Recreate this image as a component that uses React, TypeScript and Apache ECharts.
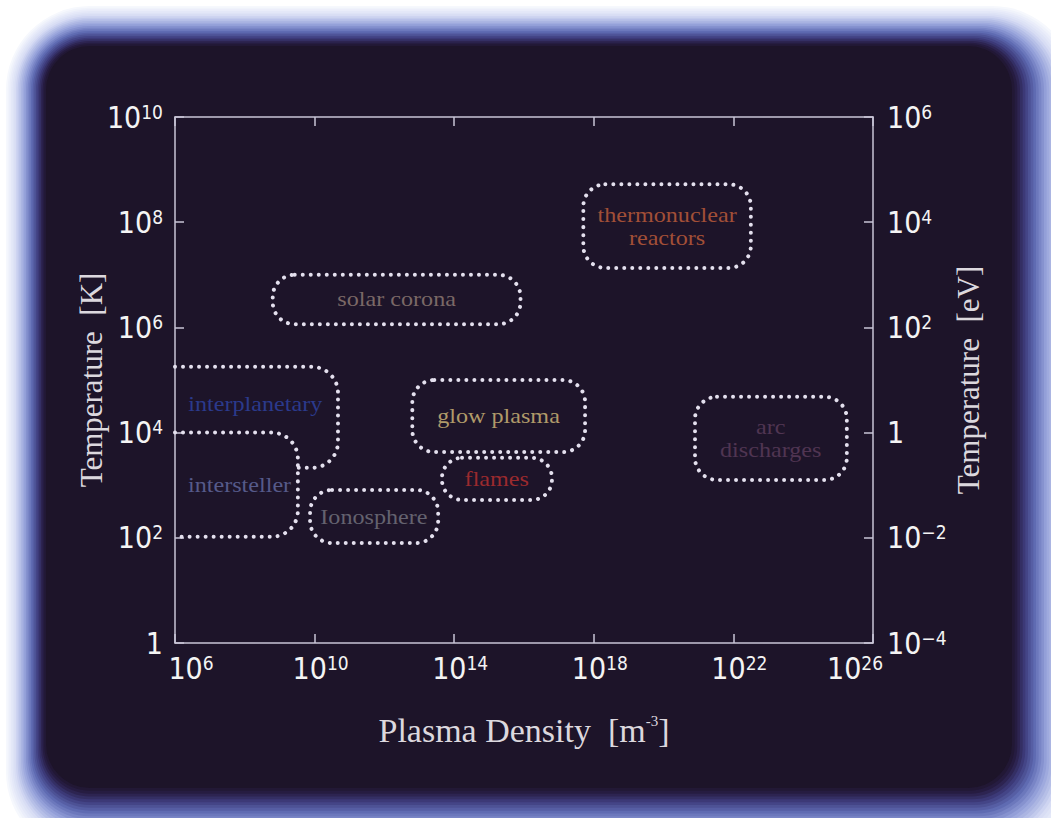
import React, { useEffect, useRef } from 'react';
import * as echarts from 'echarts';

// log10 of plasma density [m^-3] tick positions
const densityTicks = [6, 10, 14, 18, 22, 26];
// log10 temperature [K] (left) and [eV] (right) axis ranges
const tempKRange = [0, 10];
const tempEvRange = [-4, 6];

// plasma regions (log10 units)
const regionNames = [
  'thermonuclear\nreactors',
  'solar corona',
  'glow plasma',
  'flames',
  'arc\ndischarges',
  'Ionosphere',
  'interplanetary',
  'intersteller',
];
const densityLow = [17.7, 8.8, 12.8, 13.65, 20.9, 9.87, 6, 6];
const densityHigh = [22.5, 15.9, 17.75, 16.8, 25.25, 13.54, 10.67, 9.52];
const tempLow = [7.13, 6.06, 3.63, 2.72, 3.1, 1.9, 3.33, 2.02];
const tempHigh = [8.72, 7.0, 5.0, 3.52, 4.68, 2.91, 5.25, 4.0];
// where the lower edge of an open (axis-attached) region stops
const lowerEdgeEnd = [null, null, null, null, null, null, 9.52, null];
// label anchor (log10 density, log10 temperature)
const labelDensity = [20.1, 12.35, 15.27, 15.22, 23.07, 11.7, 8.3, 7.85];
const labelTemp = [7.92, 6.53, 4.32, 3.12, 3.89, 2.4, 4.55, 3.0];

const labelColors = ['#a24f37', '#7a6866', '#b09a6a', '#9b2a2e', '#503552', '#64626f', '#2b3a8c', '#565a8a'];

const TICK_FONT = '"Liberation Sans Narrow", "DejaVu Sans Condensed", "Liberation Sans", Arial, sans-serif';
const SERIF = '"Liberation Serif", "Times New Roman", serif';
const AXIS_COLOR = '#c9c5d6';
const PANEL = '#1d1429';

const tickRich = {
  b: { fontSize: 30, fontFamily: TICK_FONT, color: '#f4f4f4' },
  bm: { fontSize: 30, fontFamily: TICK_FONT, color: '#f4f4f4', padding: [0, 0, 0, 12] },
  bf: { fontSize: 30, fontFamily: TICK_FONT, color: '#f4f4f4', padding: [0, 0, 0, 32] },
  s: { fontSize: 19, fontFamily: TICK_FONT, color: '#f4f4f4', verticalAlign: 'top' },
  sl: { fontSize: 19, fontFamily: TICK_FONT, color: '#f4f4f4', verticalAlign: 'top', padding: [0, 36, 0, 0] },
};

function expLabel(v: number, tok = 'b', supTok = 's') {
  if (v === 0) return '{b|1}';
  const e = v < 0 ? '\u2212' + String(-v) : String(v);
  return `{${tok}|10}{${supTok}|${e}}`;
}

function xLabel(v: number) {
  const first = densityTicks[0];
  const last = densityTicks[densityTicks.length - 1];
  if (v === first) return expLabel(v, 'bf', 's');
  if (v === last) return expLabel(v, 'b', 'sl');
  return expLabel(v, 'bm', 's');
}

function roundedPath(l: number, t: number, r: number, b: number, rad: number) {
  return [
    `M${l + rad},${t}`,
    `L${r - rad},${t}`,
    `A${rad},${rad} 0 0 1 ${r},${t + rad}`,
    `L${r},${b - rad}`,
    `A${rad},${rad} 0 0 1 ${r - rad},${b}`,
    `L${l + rad},${b}`,
    `A${rad},${rad} 0 0 1 ${l},${b - rad}`,
    `L${l},${t + rad}`,
    `A${rad},${rad} 0 0 1 ${l + rad},${t}`,
    'Z',
  ].join(' ');
}

function openPath(l: number, t: number, r: number, b: number, endX: number, rad: number) {
  return [
    `M${l},${t}`,
    `L${r - rad},${t}`,
    `A${rad},${rad} 0 0 1 ${r},${t + rad}`,
    `L${r},${b - rad}`,
    `A${rad},${rad} 0 0 1 ${r - rad},${b}`,
    `L${endX},${b}`,
  ].join(' ');
}

// glow frame: gradient stops from the outer white to the dark panel
const glowStops: [number, number[]][] = [
  [0, [246, 248, 253]],
  [0.22, [214, 220, 244]],
  [0.45, [150, 162, 218]],
  [0.62, [96, 108, 180]],
  [0.78, [62, 60, 124]],
  [0.9, [40, 30, 70]],
  [1, [29, 20, 41]],
];

function glowColor(t: number) {
  for (let k = 1; k < glowStops.length; k++) {
    const [t1, c1] = glowStops[k];
    const [t0, c0] = glowStops[k - 1];
    if (t <= t1) {
      const f = (t - t0) / (t1 - t0);
      const c = c0.map((v, j) => Math.round(v + (c1[j] - v) * f));
      return `rgb(${c[0]},${c[1]},${c[2]})`;
    }
  }
  return PANEL;
}

function buildFrame() {
  const n = 24;
  const els: any[] = [];
  for (let k = 0; k <= n; k++) {
    const t = k / n;
    const l = 6 + 40 * t;
    const tp = 6 + 40 * t;
    const r = 1076 - 64 * t;
    const b = 856 - 68 * t;
    els.push({
      type: 'rect',
      z: -20 + k * 0.01,
      silent: true,
      shape: { x: l, y: tp, width: r - l, height: b - tp, r: 84 - 40 * t },
      style: { fill: glowColor(t) },
    });
  }
  return els;
}

export default function App() {
  const ref = useRef<HTMLDivElement>(null);

  useEffect(() => {
    if (!ref.current) return;
    const chart = echarts.init(ref.current, null, { renderer: 'svg' });
    const xMin = densityTicks[0];
    const xMax = densityTicks[densityTicks.length - 1];

    const axisLine = { show: true, onZero: false, lineStyle: { color: AXIS_COLOR, width: 1.5 } };
    const tickStyle = { color: AXIS_COLOR, width: 1.5 };

    const option: any = {
      animation: false,
      backgroundColor: '#ffffff',
      graphic: buildFrame(),
      grid: { left: 175, top: 117, right: 178, bottom: 175, containLabel: false },
      xAxis: [
        {
          type: 'value',
          min: xMin,
          max: xMax,
          position: 'bottom',
          axisLine,
          axisTick: { show: true, inside: true, length: 9, customValues: densityTicks, lineStyle: tickStyle },
          axisLabel: {
            customValues: densityTicks,
            margin: 10,
            formatter: (v: number) => xLabel(v),
            rich: tickRich,
          },
          splitLine: { show: false },
          name: '{t|Plasma Density  [m}{sup|-3}{t|]}',
          nameLocation: 'middle',
          nameGap: 70,
          nameMoveOverlap: false,
          nameTextStyle: {
            rich: {
              t: { fontFamily: SERIF, fontSize: 34, color: '#dcd8de' },
              sup: { fontFamily: SERIF, fontSize: 15, color: '#dcd8de', verticalAlign: 'top' },
            },
          },
        },
        {
          type: 'value',
          min: xMin,
          max: xMax,
          position: 'top',
          axisLine,
          axisTick: { show: true, inside: true, length: 9, customValues: densityTicks, lineStyle: tickStyle },
          axisLabel: { show: false },
          splitLine: { show: false },
        },
      ],
      yAxis: [
        {
          type: 'value',
          min: tempKRange[0],
          max: tempKRange[1],
          interval: 2,
          position: 'left',
          axisLine,
          axisTick: { show: true, inside: true, length: 9, lineStyle: tickStyle },
          axisLabel: { margin: 12, formatter: (v: number) => expLabel(v), rich: tickRich },
          splitLine: { show: false },
          name: 'Temperature  [K]',
          nameLocation: 'middle',
          nameRotate: 90,
          nameGap: 68,
          nameMoveOverlap: false,
          nameTextStyle: { fontFamily: SERIF, fontSize: 31, color: '#dcd8de' },
        },
        {
          type: 'value',
          min: tempEvRange[0],
          max: tempEvRange[1],
          interval: 2,
          position: 'right',
          axisLine,
          axisTick: { show: true, inside: true, length: 9, lineStyle: tickStyle },
          axisLabel: { margin: 14, formatter: (v: number) => expLabel(v), rich: tickRich },
          splitLine: { show: false },
          name: 'Temperature  [eV]',
          nameLocation: 'middle',
          nameRotate: 90,
          nameGap: 80,
          nameMoveOverlap: false,
          nameTextStyle: { fontFamily: SERIF, fontSize: 31, color: '#dcd8de' },
        },
      ],
      series: [
        {
          type: 'custom',
          xAxisIndex: 0,
          yAxisIndex: 0,
          silent: true,
          data: regionNames.map((_, i) => [densityLow[i], tempLow[i], densityHigh[i], tempHigh[i]]),
          encode: { x: [0, 2], y: [1, 3] },
          renderItem: (params: any, api: any) => {
            const i = params.dataIndex;
            const tl = api.coord([api.value(0), api.value(3)]);
            const br = api.coord([api.value(2), api.value(1)]);
            const rad = Math.min(22, (br[1] - tl[1]) / 2 - 1);
            const open = api.value(0) <= xMin;
            let pathData: string;
            if (open) {
              const endX = lowerEdgeEnd[i] != null ? api.coord([lowerEdgeEnd[i], 0])[0] : tl[0];
              pathData = openPath(tl[0], tl[1], br[0], br[1], endX, rad + 4);
            } else {
              pathData = roundedPath(tl[0], tl[1], br[0], br[1], rad);
            }
            const lp = api.coord([labelDensity[i], labelTemp[i]]);
            return {
              type: 'group',
              children: [
                {
                  type: 'path',
                  shape: { pathData },
                  style: {
                    fill: 'none',
                    stroke: '#e4e0ee',
                    lineWidth: 4,
                    lineDash: [0.01, 8],
                    lineCap: 'round',
                  },
                },
                {
                  type: 'text',
                  x: lp[0],
                  y: lp[1],
                  scaleX: 1.15,
                  style: {
                    text: regionNames[i],
                    fill: labelColors[i],
                    fontFamily: SERIF,
                    fontSize: 21,
                    lineHeight: 23,
                    align: 'center',
                    verticalAlign: 'middle',
                  },
                },
              ],
            };
          },
        },
      ],
    };

    chart.setOption(option);
    return () => chart.dispose();
  }, []);

  return (
    <div
      ref={ref}
      style={{ position: 'absolute', left: 0, top: 0, width: 1051, height: 818 }}
    />
  );
}
